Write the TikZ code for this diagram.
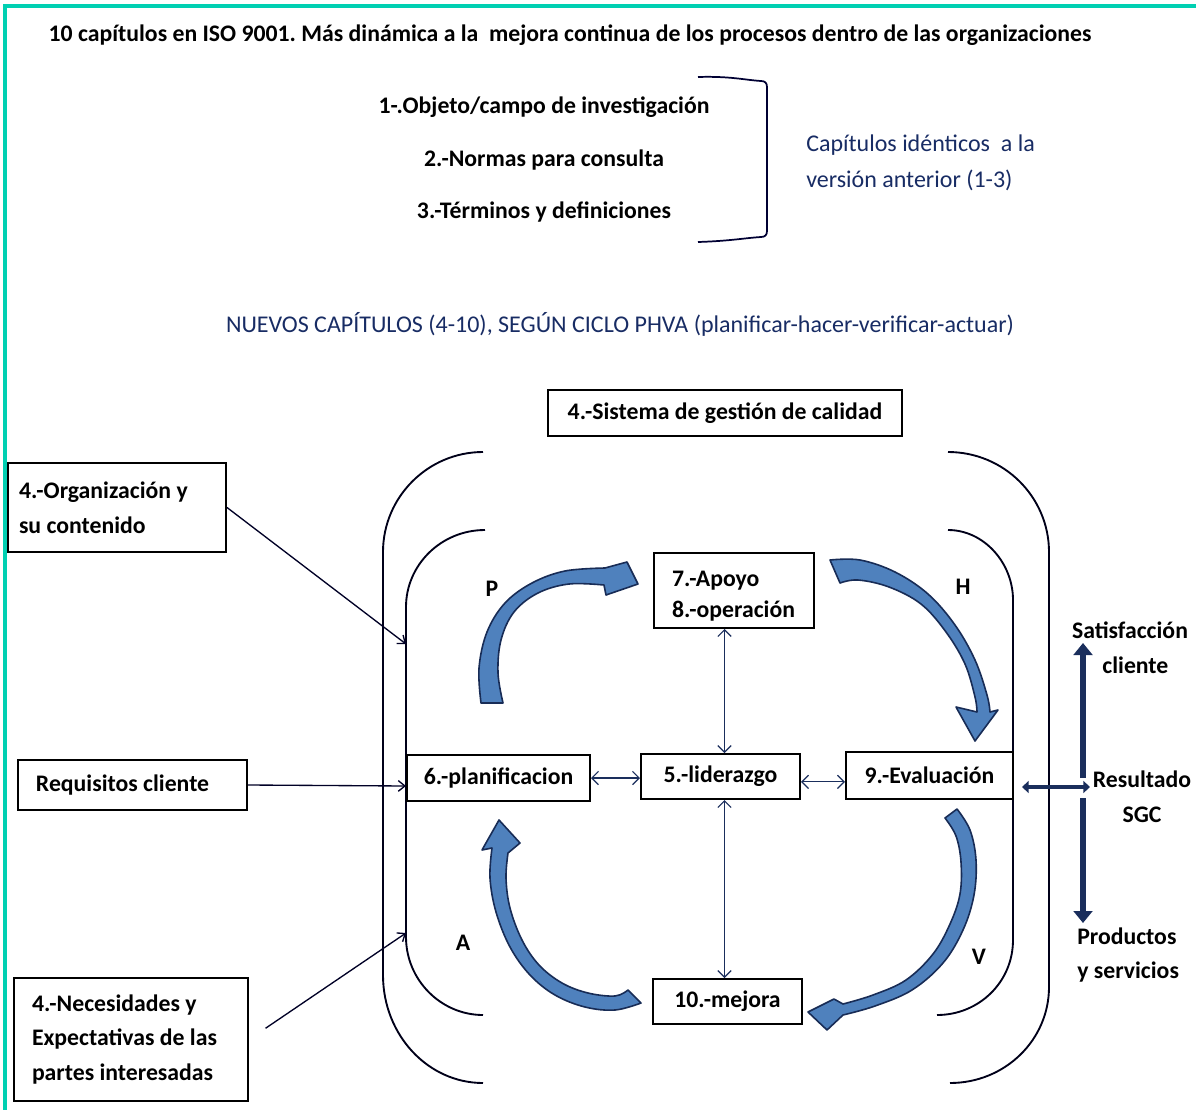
\documentclass[tikz,border=0pt]{standalone}
\usepackage{fontspec}
\setmainfont{Carlito}
\usetikzlibrary{arrows.meta,calc}
\definecolor{bordeTeal}{RGB}{0,208,178}
\definecolor{azulTexto}{RGB}{24,44,100}
\definecolor{azulFlecha}{RGB}{79,129,189}
\definecolor{azulBorde}{RGB}{24,44,86}
\definecolor{azulOscuro}{RGB}{26,46,92}
\frenchspacing
\begin{document}
\begin{tikzpicture}[x=0.75pt,y=-0.75pt,
  txt/.style={font=\bfseries\fontsize{17.8}{26}\selectfont, inner sep=0pt},
  bluetxt/.style={font=\fontsize{18}{27}\selectfont, text=azulTexto, inner sep=0pt},
  caja/.style={draw=black, line width=1.5pt, inner sep=0pt, font=\bfseries\fontsize{17.8}{26}\selectfont},
  paren/.style={draw=black!90!blue, line width=1.4pt},
  dbl/.style={draw=azulOscuro, line width=0.9pt,
    {Straight Barb[length=5pt,width=10pt]}-{Straight Barb[length=5pt,width=10pt]}},
  entrada/.style={draw=black!85!blue, line width=1pt, -{Straight Barb[length=5pt,width=8pt]}},
  flecha/.style={fill=azulFlecha, draw=azulBorde, line width=1.2pt, line join=round},
  gruesa/.style={draw=azulOscuro, line width=4.8pt, -{Triangle[length=9pt,width=14pt]}},
]
\useasboundingbox (0,0) rectangle (1196,1110);
\fill[white] (0,0) rectangle (1196,1110);

% turquoise frame lines
\draw[bordeTeal, line width=2.4pt] (5,1112) -- (5,6) -- (1198,6);

% heading and the unchanged chapters
\node[txt] (titulo) at (570,35) {10 capítulos en ISO 9001. Más dinámica a la\ \ mejora continua de los procesos dentro de las organizaciones};
\node[txt] (c1) at (544,107) {1-.Objeto/campo de investigación};
\node[txt] (c2) at (544,160) {2.-Normas para consulta};
\node[txt] (c3) at (544,212) {3.-Términos y definiciones};
\draw[draw=black!80!blue, line width=1.3pt]
  (698,77) .. controls (730,76) and (745,80) .. (761,81)
  .. controls (765,81) and (767,83) .. (767,87) -- (767,231)
  .. controls (767,235) and (765,237) .. (761,237)
  .. controls (745,238) and (730,241) .. (698,242);
\node[bluetxt, anchor=west, align=left] (ident) at (806,163) {Capítulos idénticos\ \ a la\\versión anterior (1-3)};
\node[bluetxt] (nuevos) at (620,324) {NUEVOS CAPÍTULOS (4-10), SEGÚN CICLO PHVA (planificar-hacer-verificar-actuar)};

% quality management system
\node[caja, minimum width=265.5pt, minimum height=34.5pt] (sgc) at (725,413) {4.-Sistema de gestión de calidad};

% surrounding brackets
\draw[paren] (483,452) .. controls (428,452) and (383,497) .. (383,552) -- (383,975)
  .. controls (383,1035) and (428,1083) .. (483,1083);
\draw[paren] (485,530) .. controls (441,530) and (406,565) .. (406,607) -- (406,937)
  .. controls (406,980) and (441,1015) .. (483,1015);
\draw[paren] (948,452) .. controls (1004,452) and (1049,497) .. (1049,552) -- (1049,987)
  .. controls (1049,1040) and (1005,1083) .. (950,1083);
\draw[paren] (948,530) .. controls (984,530) and (1013,563) .. (1013,600) -- (1013,940)
  .. controls (1013,982) and (979,1015) .. (937,1015);

% external inputs
\node[caja, text width=147pt, inner xsep=8.25pt, align=flush left, minimum height=66.75pt] (org) at (117,507.5) {4.-Organización y\\su contenido};
\node[caja, text width=144.75pt, inner xsep=13.5pt, align=flush left, minimum height=37.5pt] (req) at (132.5,785) {Requisitos cliente};
\node[caja, text width=148.5pt, inner xsep=13.5pt, align=flush left, minimum height=92.25pt] (nec) at (131,1039.5) {4.-Necesidades y\\Expectativas de las\\partes interesadas};
\coordinate (inA) at (406,644);
\coordinate (inB) at (406,786);
\coordinate (inC) at (406,933);
\draw[entrada] (org.east) -- (inA);
\draw[entrada] (req.east) -- (inB);
\draw[entrada, shorten <=15pt] (nec.east) -- (inC);

% chapter boxes
\node[caja, minimum width=137.25pt, minimum height=34.5pt] (plan) at (498.5,778) {6.-planificacion};
\node[caja, minimum width=119.25pt, minimum height=33.75pt] (lid) at (720.5,776.5) {5.-liderazgo};
\node[caja, minimum width=125.25pt, minimum height=35.25pt] (eva) at (929.5,775.5) {9.-Evaluación};
\node[caja, text width=93pt, inner xsep=13.5pt, align=flush left, minimum height=56.25pt,
  font=\bfseries\fontsize{17.8}{23}\selectfont] (apo) at (734,590.5) {\rule{0pt}{20pt}7.-Apoyo\\8.-operación};
\node[caja, minimum width=111.75pt, minimum height=33.75pt] (mej) at (727.5,1001.5) {10.-mejora};

\draw[dbl] (plan.east) -- (plan.east -| lid.west);
\draw[dbl] ([yshift=-4]lid.east) -- ([yshift=-4]lid.east -| eva.west);
\draw[dbl] ([xshift=3]lid.north |- apo.south) -- ([xshift=3]lid.north);
\draw[dbl] ([xshift=3]lid.south) -- ([xshift=3]lid.south |- mej.north);

% PHVA cycle arrows
% P: planificar
\filldraw[flecha] plot[smooth, tension=0.6] coordinates {(481,703) (479,668) (487,632) (505,603) (532,583) (565,571) (605,568)}
  -- (627,562) -- (638,584) -- (606,595)
  -- plot[smooth, tension=0.6] coordinates {(604,585) (569,584) (538,593) (514,612) (501,640) (498,673) (503,703)} -- cycle;
% H: hacer
\filldraw[flecha] plot[smooth, tension=0.6] coordinates {(830,560) (860,560) (895,572) (928,594) (955,625) (975,660) (987,695) (990,712)}
  -- (998,710) -- (975,741) -- (956,707)
  -- plot[smooth, tension=0.6] coordinates {(977,712) (975,697) (965,664) (946,632) (921,604) (889,587) (858,580) (840,583)} -- cycle;
% V: verificar
\filldraw[flecha] plot[smooth, tension=0.6] coordinates {(957,809) (970,830) (976,860) (974,895) (963,930) (943,963) (912,990) (875,1006) (843,1015)}
  -- (827,1030) -- (808,1012) -- (834,999)
  -- plot[smooth, tension=0.6] coordinates {(843,1004) (873,995) (906,980) (933,954) (950,924) (960,894) (961,862) (956,836) (945,818)} -- cycle;
% A: actuar
\filldraw[flecha] plot[smooth, tension=0.6] coordinates {(641,1003) (615,1010) (585,1007) (555,995) (530,975) (510,947) (496,912) (490,878) (492,848)}
  -- (482,850) -- (499,820) -- (520,843)
  -- plot[smooth, tension=0.6] coordinates {(508,853) (506,878) (510,908) (522,940) (539,965) (562,983) (588,993) (615,996) (628,990)} -- cycle;

\node[txt] (P) at (492,589) {P};
\node[txt] (H) at (963,587) {H};
\node[txt] (A) at (463,943) {A};
\node[txt] (V) at (979,957) {V};

% results of the system
\node[txt, align=center] (sat) at (1130,648) {Satisfacción\\\ \ cliente};
\node[txt, align=center] (res) at (1142,797) {Resultado\\SGC};
\node[txt, align=left, anchor=west] (prod) at (1077,955) {Productos\\y servicios};
\coordinate (hubL) at (1022,787);
\coordinate (hubR) at (1090,787);
\coordinate (upA) at (1083,778);
\coordinate (upB) at (1083,643);
\coordinate (dnA) at (1083,798);
\coordinate (dnB) at (1083,923);
\draw[gruesa] (upA) -- (upB);
\draw[gruesa] (dnA) -- (dnB);
\draw[draw=azulOscuro, line width=3.6pt, {Triangle[length=5pt,width=9pt]}-{Triangle[length=5pt,width=9pt]}] (hubL) -- (hubR);
\end{tikzpicture}
\end{document}
